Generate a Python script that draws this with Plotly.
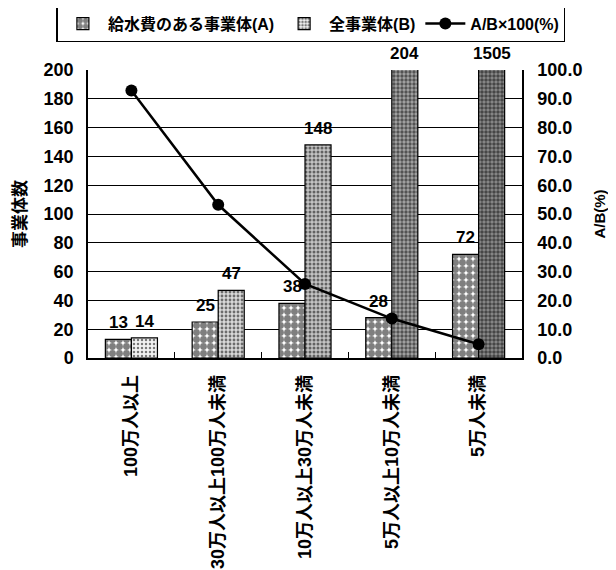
import plotly.graph_objects as go

categories = ["100万人以上", "30万人以上100万人未満", "10万人以上30万人未満", "5万人以上10万人未満", "5万人未満"]
series_a = [13, 25, 38, 28, 72]          # 給水費のある事業体(A)
series_b = [14, 47, 148, 204, 1505]      # 全事業体(B)
ratio = [92.9, 53.2, 25.7, 13.7, 4.8]    # A/B×100(%)
left_ticks = [0, 20, 40, 60, 80, 100, 120, 140, 160, 180, 200]
right_ticks = [0, 10, 20, 30, 40, 50, 60, 70, 80, 90, 100]

YMAX = 200
FONT = "Liberation Sans, Noto Sans CJK JP, sans-serif"
b_density = [0.3, 0.4, 0.45, 0.55, 0.6]
b_shade = ["#f2f2f2", "#d9d9d9", "#c4c4c4", "#a6a6a6", "#8c8c8c"]

fig = go.Figure()
fig.add_trace(go.Bar(
    x=categories, y=series_a, name="給水費のある事業体(A)",
    marker=dict(color="white", line=dict(color="black", width=1.2),
                pattern=dict(shape=".", fgcolor="black", bgcolor="white", size=7, solidity=0.75)),
))
fig.add_trace(go.Bar(
    x=categories, y=series_b, name="全事業体(B)",
    marker=dict(color="white", line=dict(color="black", width=1.2),
                pattern=dict(shape=".", fgcolor="black", bgcolor=b_shade, size=4, solidity=b_density)),
))
fig.add_trace(go.Scatter(
    x=categories, y=ratio, name="A/B×100(%)", yaxis="y2", mode="lines+markers",
    line=dict(color="black", width=2.5), marker=dict(color="black", size=12),
))

for vals, shift in ((series_a, -13), (series_b, 13)):
    for c, v in zip(categories, vals):
        fig.add_annotation(x=c, y=min(v, YMAX), text=str(v), showarrow=False,
                           xshift=shift, yanchor="bottom", yshift=5,
                           font=dict(size=17, family=FONT, color="black", weight="bold"))

fig.update_layout(
    width=608, height=562,
    margin=dict(l=80, r=94, t=62, b=212, autoexpand=False),
    paper_bgcolor="white", plot_bgcolor="white",
    font=dict(family=FONT, color="black", size=15, weight="bold"),
    barmode="group", bargap=0.4, bargroupgap=0,
    showlegend=True,
    legend=dict(orientation="h", x=1.10, xanchor="right", y=1.161, yanchor="middle",
                bordercolor="black", borderwidth=1.5,
                font=dict(size=16, color="black", weight="bold", family=FONT),
                itemwidth=40, tracegroupgap=0, traceorder="normal"),
    xaxis=dict(showline=True, linecolor="black", linewidth=1.5, ticks="inside", ticklen=6,
               tickcolor="black", tickson="boundaries", tickangle=-90, automargin=False,
               ticklabelstandoff=8, tickfont=dict(size=18, color="black")),
    yaxis=dict(range=[0, YMAX], tickvals=left_ticks, showgrid=True, gridcolor="black", gridwidth=1,
               showline=True, linecolor="black", linewidth=1.5, ticks="", zeroline=False,
               automargin=False, ticklabelstandoff=9,
               title=dict(text="事業体数", font=dict(size=17, weight="bold", color="black"), standoff=13),
               tickfont=dict(size=18, color="black")),
    yaxis2=dict(range=[0, 100], tickvals=right_ticks, tickformat=".1f", overlaying="y", side="right",
                showgrid=False, showline=True, linecolor="black", linewidth=1.5, zeroline=False,
                automargin=False, ticklabelstandoff=10,
                title=dict(text="A/B(%)", font=dict(size=15, weight="bold", color="black"), standoff=13),
                tickfont=dict(size=18, color="black")),
)

fig.write_html("out.html")
